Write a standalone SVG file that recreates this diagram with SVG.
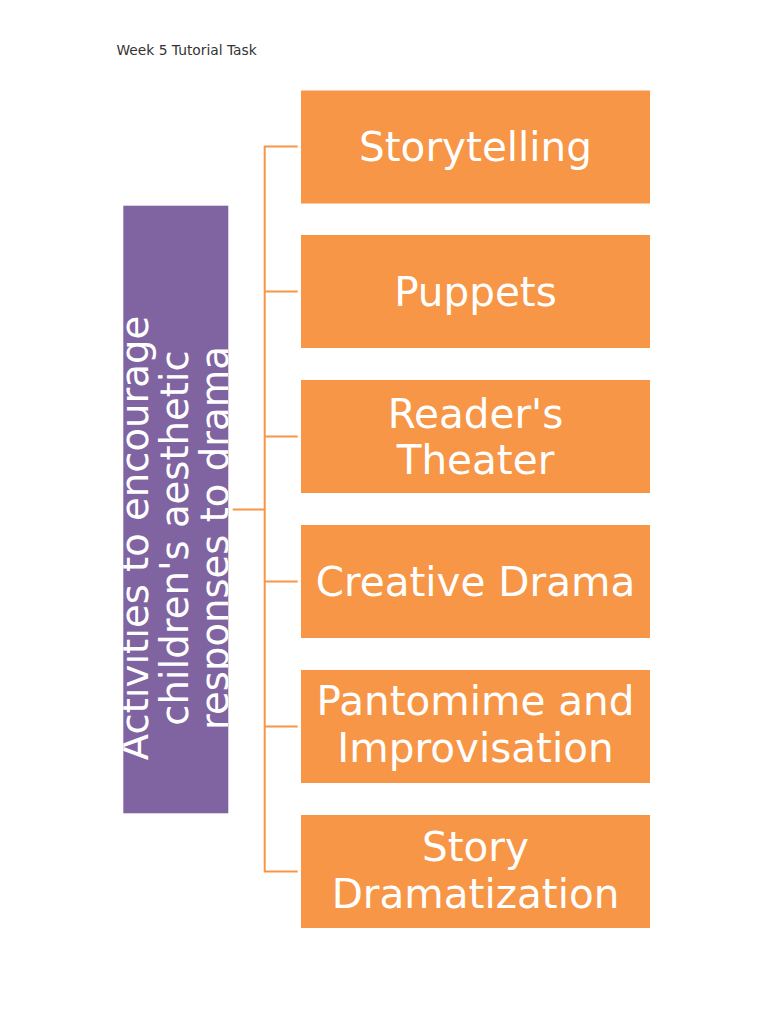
<svg xmlns="http://www.w3.org/2000/svg" width="768" height="1024" viewBox="0 0 768 1024">
<style>
.box{fill:#F79646}
.lbl{font-family:"DejaVu Sans",sans-serif;font-size:40.5px;fill:#FFFFFF;text-anchor:middle}
.conn{stroke:#F79646;stroke-width:2;fill:none}
.hdr{font-family:"DejaVu Sans",sans-serif;font-size:13.8px;fill:#333333}
.root{font-family:"DejaVu Sans",sans-serif;font-size:38.6px;fill:#FFFFFF;text-anchor:middle}
</style>
<defs>
<clipPath id="rootclip"><rect x="123.3" y="205.7" width="105" height="607.6"/></clipPath>
</defs>
<rect width="768" height="1024" fill="#FFFFFF"/>
<text class="hdr" x="116.5" y="55">Week 5 Tutorial Task</text>
<g id="connectors">
<path class="conn" d="M232.7,509.5 H264.7"/>
<path class="conn" d="M297.7,146.5 H264.7 V871.5 H297.7"/>
<path class="conn" d="M264.7,291.5 H297.7"/>
<path class="conn" d="M264.7,436.5 H297.7"/>
<path class="conn" d="M264.7,581.5 H297.7"/>
<path class="conn" d="M264.7,726.5 H297.7"/>
</g>
<g id="root">
<rect x="123.3" y="205.7" width="105" height="607.6" fill="#8064A2"/>
<g clip-path="url(#rootclip)">
<text class="root" transform="translate(148,538) rotate(-90)"><tspan x="0" y="0">Activities to encourage</tspan><tspan x="0" y="40">children's aesthetic</tspan><tspan x="0" y="80">responses to drama</tspan></text>
</g>
</g>
<g id="n1">
<rect class="box" x="301" y="90.5" width="349" height="113"/>
<text class="lbl" x="475.5" y="161">Storytelling</text>
</g>
<g id="n2">
<rect class="box" x="301" y="235" width="349" height="113"/>
<text class="lbl" x="475.5" y="306">Puppets</text>
</g>
<g id="n3">
<rect class="box" x="301" y="380" width="349" height="113"/>
<text class="lbl" x="475.5" y="427.5">Reader's</text>
<text class="lbl" x="475.5" y="474">Theater</text>
</g>
<g id="n4">
<rect class="box" x="301" y="525" width="349" height="113"/>
<text class="lbl" x="475.5" y="596">Creative Drama</text>
</g>
<g id="n5">
<rect class="box" x="301" y="670" width="349" height="113"/>
<text class="lbl" x="475.5" y="715">Pantomime and</text>
<text class="lbl" x="475.5" y="761.5">Improvisation</text>
</g>
<g id="n6">
<rect class="box" x="301" y="815" width="349" height="113"/>
<text class="lbl" x="475.5" y="861">Story</text>
<text class="lbl" x="475.5" y="907.5">Dramatization</text>
</g>
</svg>
